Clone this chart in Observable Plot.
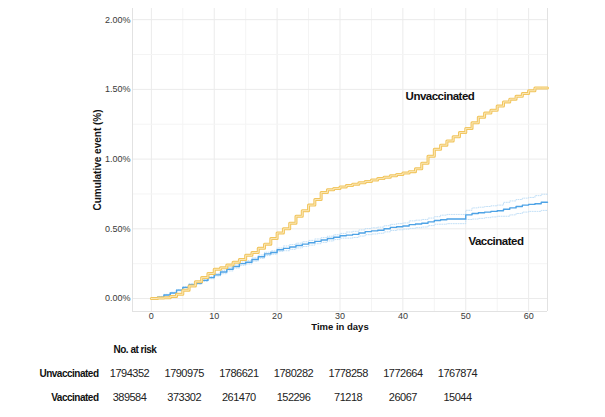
<!DOCTYPE html>
<html><head><meta charset="utf-8">
<script src="https://cdn.jsdelivr.net/npm/d3@7"></script>
<script src="https://cdn.jsdelivr.net/npm/@observablehq/plot@0.6"></script>
<style>
body{margin:0;background:#fff;}
#chart svg{display:block;}
</style></head><body><div id="chart"></div>
<script>
// ---- data ----
const days = [0,1,2,3,4,5,6,7,8,9,10,11,12,13,14,15,16,17,18,19,20,21,22,23,24,25,26,27,28,29,30,31,32,33,34,35,36,37,38,39,40,41,42,43,44,45,46,47,48,49,50,51,52,53,54,55,56,57,58,59,60,61,62,63];
const unvaccinated = [0,0.003,0.005,0.015,0.03,0.06,0.09,0.12,0.15,0.18,0.21,0.22,0.24,0.26,0.28,0.31,0.33,0.36,0.39,0.43,0.47,0.50,0.54,0.59,0.63,0.67,0.71,0.76,0.78,0.79,0.80,0.81,0.82,0.83,0.84,0.85,0.86,0.87,0.88,0.89,0.90,0.91,0.93,0.97,1.02,1.07,1.10,1.13,1.16,1.19,1.22,1.26,1.30,1.33,1.35,1.38,1.41,1.43,1.45,1.47,1.49,1.51,1.51,1.51];
const vaccinated = [0,0.01,0.025,0.04,0.06,0.08,0.10,0.11,0.13,0.15,0.17,0.19,0.21,0.23,0.25,0.26,0.28,0.30,0.32,0.33,0.35,0.36,0.37,0.38,0.39,0.40,0.41,0.42,0.43,0.44,0.45,0.455,0.46,0.47,0.48,0.485,0.49,0.50,0.51,0.515,0.52,0.53,0.535,0.54,0.55,0.56,0.565,0.57,0.57,0.57,0.60,0.61,0.615,0.62,0.625,0.63,0.64,0.65,0.66,0.67,0.675,0.68,0.69,0.69];
const vaccinatedUpper = [0,0.015,0.03,0.045,0.065,0.085,0.108,0.118,0.138,0.158,0.178,0.202,0.222,0.242,0.262,0.272,0.292,0.312,0.332,0.342,0.362,0.377,0.387,0.397,0.407,0.417,0.427,0.437,0.447,0.457,0.467,0.477,0.482,0.492,0.502,0.507,0.512,0.522,0.532,0.537,0.542,0.557,0.562,0.567,0.577,0.587,0.598,0.603,0.603,0.603,0.633,0.65,0.655,0.66,0.665,0.67,0.69,0.70,0.71,0.72,0.725,0.738,0.748,0.748];
const vaccinatedLower = [0,0.005,0.02,0.035,0.055,0.075,0.092,0.102,0.122,0.142,0.162,0.178,0.198,0.218,0.238,0.248,0.268,0.288,0.308,0.318,0.338,0.343,0.353,0.363,0.373,0.383,0.393,0.403,0.413,0.423,0.433,0.433,0.438,0.448,0.458,0.463,0.468,0.478,0.488,0.493,0.498,0.503,0.508,0.513,0.523,0.533,0.533,0.537,0.537,0.537,0.567,0.57,0.575,0.58,0.585,0.59,0.59,0.60,0.61,0.62,0.625,0.625,0.632,0.632];

const xMajorTicks = [0,10,20,30,40,50,60];
const xMinorTicks = [5,15,25,35,45,55];
const yMajorTicks = [0,0.5,1,1.5,2];
const yMinorTicks = [0.25,0.75,1.25,1.75];

const curveLabelText = ["Unvaccinated","Vaccinated"];
const curveLabelX = [45.9, 54.8];
const curveLabelY = [1.45, 0.41];

const riskTimes = [0,10,20,30,40,50,60];
const riskUnvaccinated = [1794352,1790975,1786621,1780282,1778258,1772664,1767874];
const riskVaccinated = [389584,373302,261470,152296,71218,26067,15044];
const riskRowNames = ["No. at risk","Unvaccinated","Vaccinated"];

// ---- derived tables ----
const rows = days.map((d,i)=>({day:d, unvac:unvaccinated[i], vac:vaccinated[i], lo:vaccinatedLower[i], hi:vaccinatedUpper[i]}));
const labels = curveLabelText.map((t,i)=>({text:t, x:curveLabelX[i], y:curveLabelY[i]}));
const riskCells = [];
riskTimes.forEach((t,i)=>{
  riskCells.push({t, row:"Unvaccinated", n:riskUnvaccinated[i]});
  riskCells.push({t, row:"Vaccinated", n:riskVaccinated[i]});
});

const sans = "'Liberation Sans', Arial, Helvetica, sans-serif";

const main = Plot.plot({
  width: 605, height: 335,
  marginLeft: 132, marginRight: 58, marginTop: 8, marginBottom: 24,
  style: {fontFamily: sans, fontSize: "9px", color: "#3a3a3a", background: "white"},
  x: {domain: [-3, 63], label: null},
  y: {domain: [-0.093, 2.08], label: null},
  marks: [
    Plot.gridX(xMinorTicks, {stroke: "#f4f4f4", strokeOpacity: 1}),
    Plot.gridX(xMajorTicks, {stroke: "#ebebeb", strokeOpacity: 1}),
    Plot.gridY(yMinorTicks, {stroke: "#f4f4f4", strokeOpacity: 1}),
    Plot.gridY(yMajorTicks, {stroke: "#ebebeb", strokeOpacity: 1}),
    Plot.ruleX([-3, 63], {stroke: "#e2e2e2"}),
    Plot.ruleY([-0.093], {stroke: "#e2e2e2"}),
    Plot.line(rows, {x: "day", y: "lo", curve: "step-after", stroke: "#bcdcf6", strokeWidth: 0.9, strokeDasharray: "1,1.4"}),
    Plot.line(rows, {x: "day", y: "hi", curve: "step-after", stroke: "#bcdcf6", strokeWidth: 0.9, strokeDasharray: "1,1.4"}),
    Plot.line(rows, {x: "day", y: "vac", curve: "step-after", stroke: "#4ea3e6", strokeWidth: 1.4}),
    Plot.line(rows, {x: "day", y: "unvac", curve: "step-after", stroke: "#f1c55e", strokeWidth: 3}),
    Plot.line(rows, {x: "day", y: "unvac", curve: "step-after", stroke: "#fbe8b8", strokeWidth: 1}),
    Plot.axisX(xMajorTicks, {tickSize: 0, tickPadding: 1, label: null}),
    Plot.axisY(yMajorTicks, {tickSize: 0, tickPadding: 2, tickFormat: d => d.toFixed(2) + "%", label: null}),
    Plot.text(["Cumulative event (%)"], {frameAnchor: "left", rotate: -90, dx: -35, textAnchor: "middle", lineAnchor: "middle", fontWeight: "bold", fontSize: 10, fill: "#111"}),
    Plot.text(["Time in days"], {frameAnchor: "bottom", dy: 15, textAnchor: "middle", lineAnchor: "middle", fontWeight: "bold", fontSize: 9.5, fill: "#111"}),
    Plot.text(labels, {x: "x", y: "y", text: "text", fontWeight: "bold", fontSize: 11.5, fill: "#111"})
  ]
});

const table = Plot.plot({
  width: 605, height: 82, margin: 0,
  style: {fontFamily: sans, fontSize: "11px", color: "#222", background: "white", letterSpacing: "-0.5px"},
  x: {domain: [0, 60], range: [129, 457], axis: null},
  y: {type: "point", domain: riskRowNames, range: [13, 62], padding: 0, axis: null},
  marks: [
    Plot.text([riskRowNames[0]], {x: () => 0, y: d => d, text: d => d, dx: -16, textAnchor: "start", fontWeight: "bold", fontSize: 10, fill: "#111"}),
    Plot.text(riskRowNames.slice(1), {x: () => 0, y: d => d, text: d => d, dx: -31, textAnchor: "end", fontWeight: "bold", fontSize: 10, fill: "#111"}),
    Plot.text(riskCells, {x: "t", y: "row", text: d => String(d.n), fill: "#222"})
  ]
});

// tighten the curve labels a little, as in the reference's condensed face
d3.select(main).selectAll("text").filter(function(){ return curveLabelText.includes(this.textContent); }).attr("letter-spacing", "-0.5px");

const root = document.getElementById("chart");
root.appendChild(main);
root.appendChild(table);
</script></body></html>
